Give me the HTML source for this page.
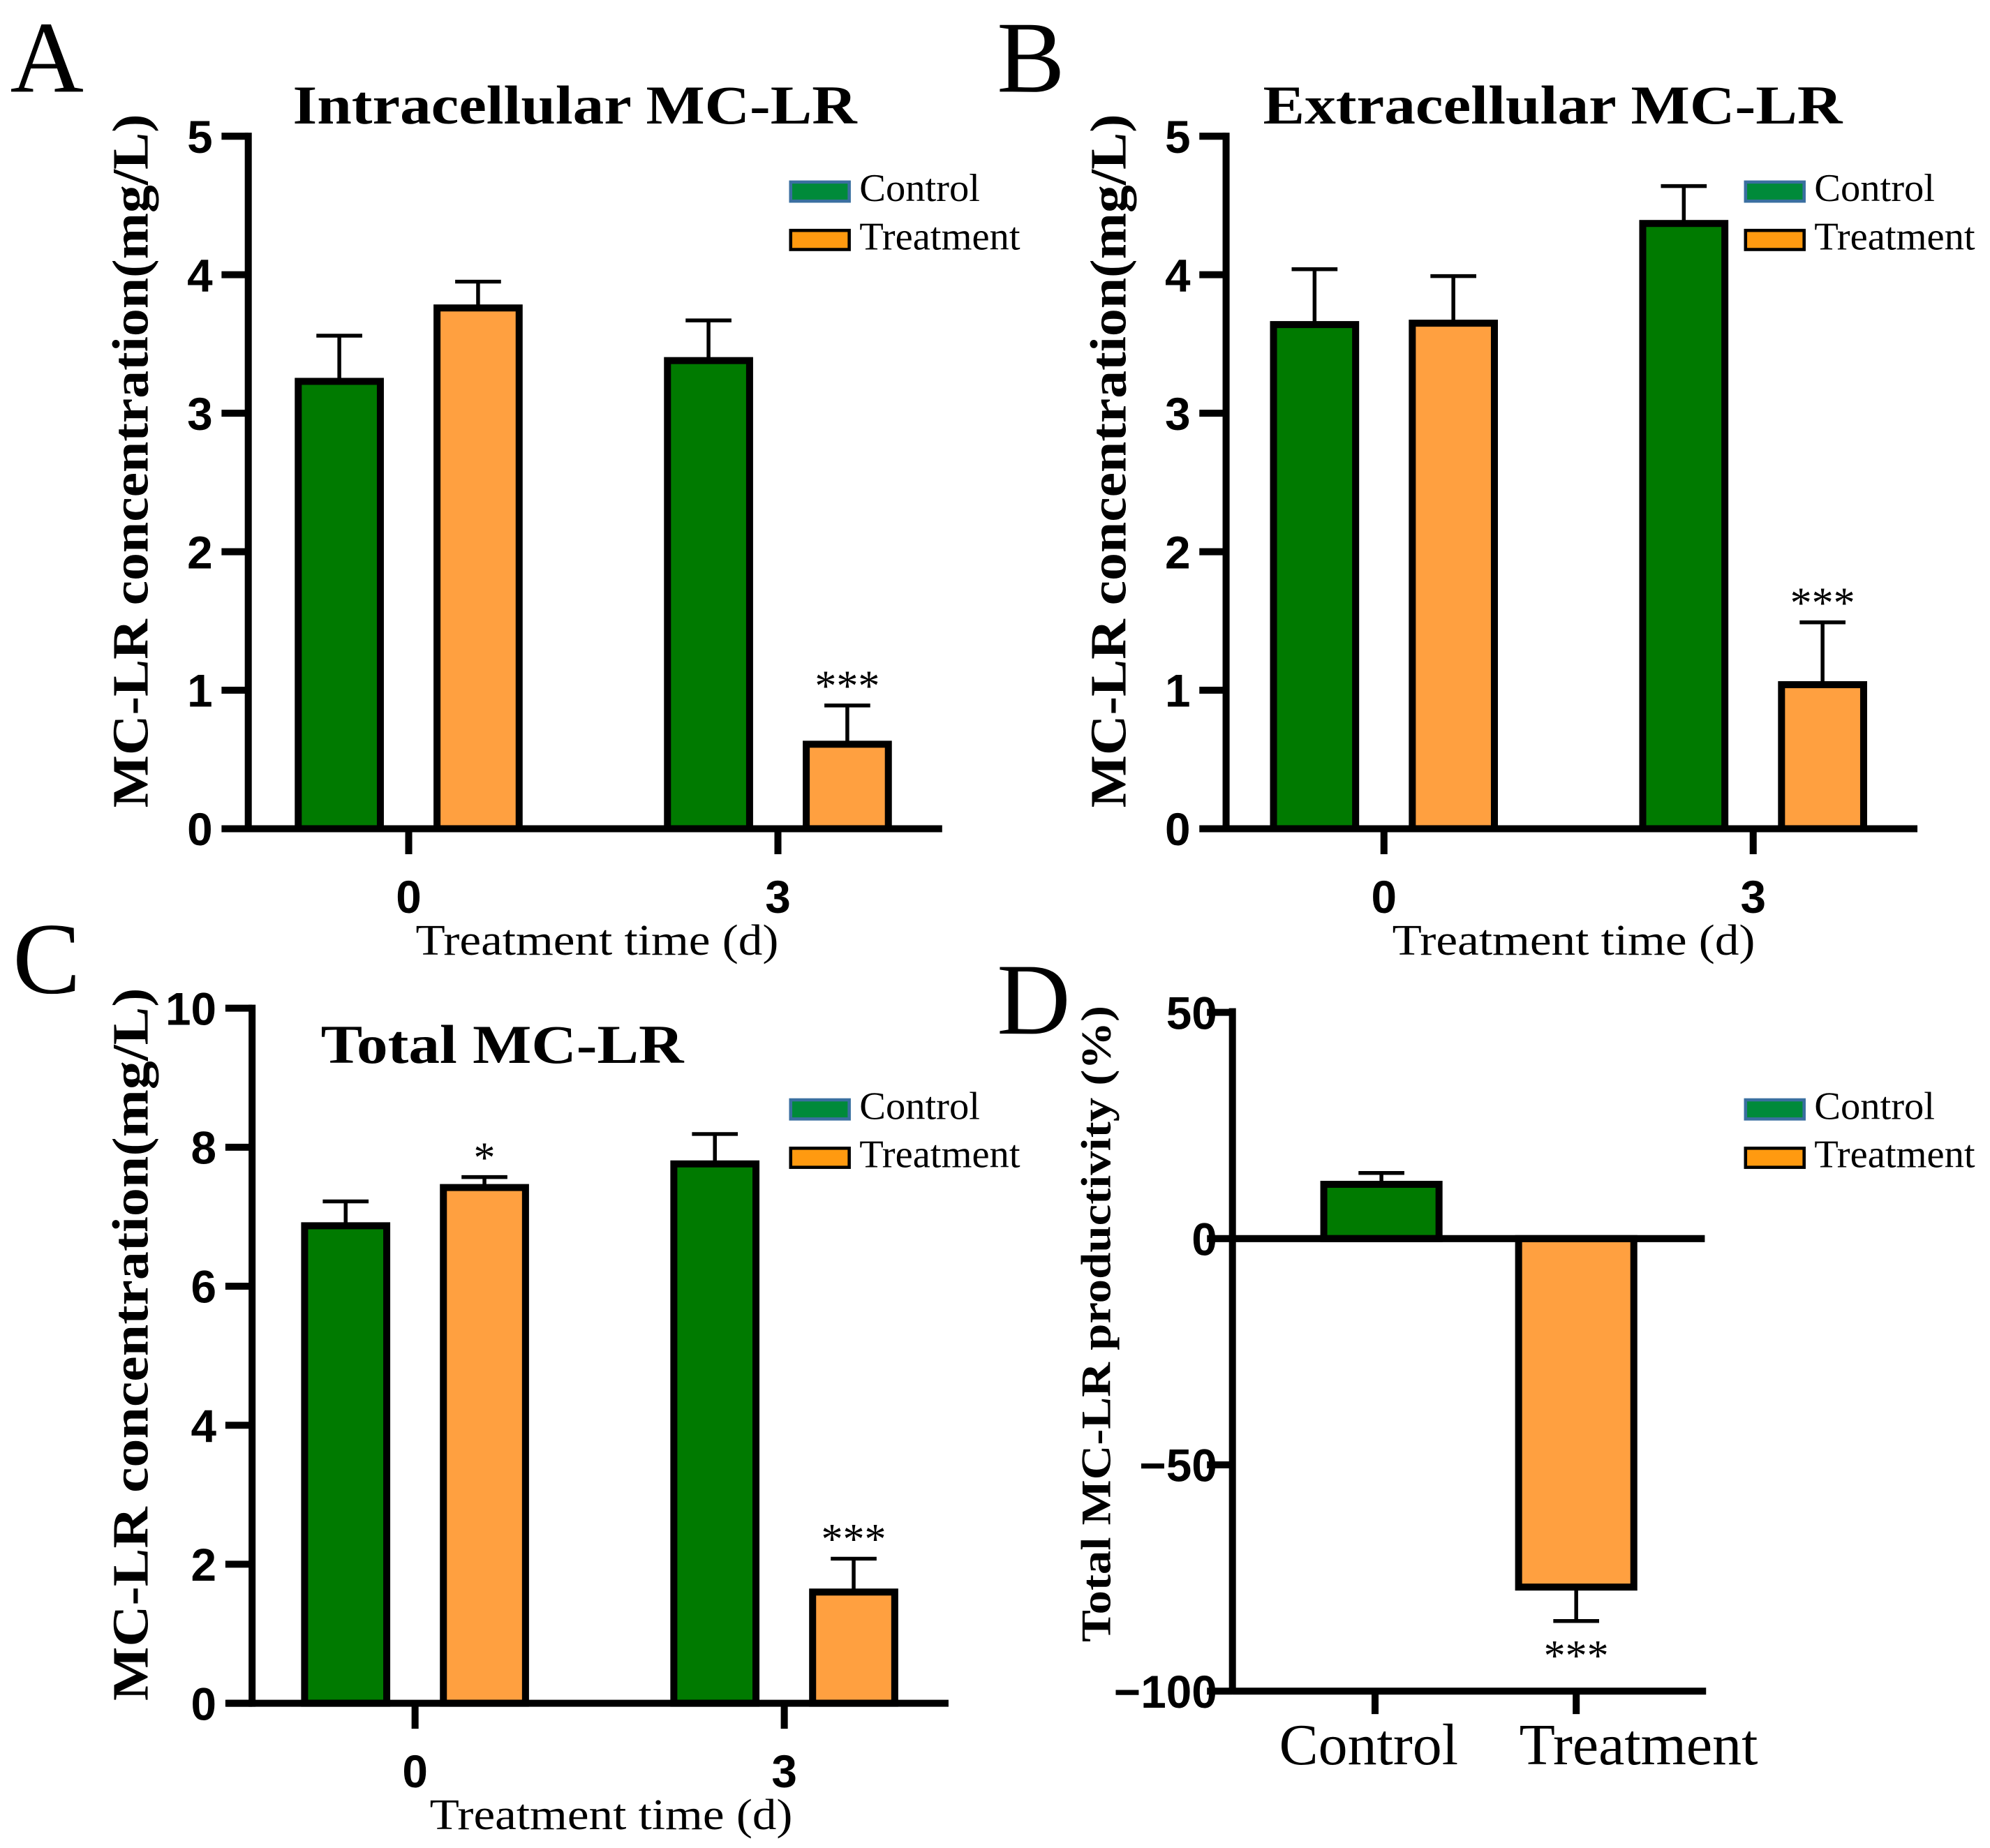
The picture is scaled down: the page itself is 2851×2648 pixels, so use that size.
<!DOCTYPE html>
<html><head><meta charset="utf-8"><style>
html,body{margin:0;padding:0;background:#fff}
svg{display:block}
.tick{font-family:"Liberation Sans",sans-serif;font-weight:bold;font-size:36px}
.ser{font-family:"Liberation Serif",serif}
</style></head><body>
<svg id="fig" width="2851" height="2648" viewBox="0 0 1563 1451.7" xmlns="http://www.w3.org/2000/svg"></svg>
<script>
// Panel A data
const aCats = ["0","3"];
const aControl = [3.23, 3.38];
const aControlErr = [3.56, 3.67];
const aTreat = [3.76, 0.61];
const aTreatErr = [3.95, 0.89];
const aSig = ["", "***"];
const aTicks = [0,1,2,3,4,5];
// Panel B data
const bCats = ["0","3"];
const bControl = [3.64, 4.37];
const bControlErr = [4.04, 4.64];
const bTreat = [3.65, 1.04];
const bTreatErr = [3.99, 1.49];
const bSig = ["", "***"];
const bTicks = [0,1,2,3,4,5];
// Panel C data
const cCats = ["0","3"];
const cControl = [6.87, 7.76];
const cControlErr = [7.22, 8.19];
const cTreat = [7.42, 1.60];
const cTreatErr = [7.57, 2.08];
const cSig = ["*", "***"];
const cTicks = [0,2,4,6,8,10];
// Panel D data
const dCats = ["Control","Treatment"];
const dValues = [12, -77];
const dErr = [14.5, -84.5];
const dTicks = [50,0,-50,-100];
const dTickLabels = ["50","0","\u221250","\u2212100"];

const NS="http://www.w3.org/2000/svg";
const svg=document.getElementById('fig');
const GREEN="#007a00", ORANGE="#ffa040";
function mk(tag,attrs,parent,text){const e=document.createElementNS(NS,tag);for(const k in attrs)e.setAttribute(k,attrs[k]);if(text!==undefined)e.textContent=text;(parent||svg).appendChild(e);return e;}

function legend(g,x,y){
  let s=mk('rect',{x:x,y:y,width:46,height:15,fill:'#008a3a',stroke:'#3a6fa0','stroke-width':2.5},g);
  
  
  let t=mk('text',{x:x+54,y:y+15,'font-size':31,class:'ser'},g,'Control');
  
  
  s=mk('rect',{x:x,y:y+38,width:46,height:15,fill:'#ff9a10',stroke:'#000','stroke-width':2.5},g);
  
  
  t=mk('text',{x:x+54,y:y+53,'font-size':31,class:'ser'},g,'Treatment');
  
  
}

function bar(g,cx,w,v0,v,errV,yf,color,name){
  const y0=yf(0), y1=yf(v);
  const top=Math.min(y0,y1), h=Math.abs(y1-y0);
  const ye=yf(errV);
  let l=mk('line',{x1:cx,x2:cx,y1:y1,y2:ye,stroke:'#000','stroke-width':3},g);
  
  
  let c=mk('line',{x1:cx-18,x2:cx+18,y1:ye,y2:ye,stroke:'#000','stroke-width':3},g);
  
  
  let r=mk('rect',{x:cx-w/2+2.75,y:top,width:w-5.5,height:h,fill:color,stroke:'#000','stroke-width':5.5},g);
  
  
  return ye;
}

function grouped(p){
  const g=mk('g',{});
  
  
  const yf=v=>p.y0-(v-0)*(p.y0-p.yTop)/p.max;
  const xc=[p.t0,p.t1];
  p.cats.forEach((c,i)=>{
    bar(g,xc[i]-54.5,70,0,p.ctrl[i],p.ctrlErr[i],yf,GREEN,'bar-control-day'+c);
    const ye=bar(g,xc[i]+54.5,70,0,p.trt[i],p.trtErr[i],yf,ORANGE,'bar-treatment-day'+c);
    if(p.sig[i]){
      const s=mk('text',{x:xc[i]+54.5,y:ye-4,'text-anchor':'middle','font-size':34,class:'ser'},g,p.sig[i]);
      
      
    }
  });
  let ya=mk('line',{x1:p.ax,x2:p.ax,y1:p.yTop-2.75,y2:p.y0+2.75,stroke:'#000','stroke-width':5.5},g);
  
  
  let xa=mk('line',{x1:p.ax-20,x2:p.xEnd,y1:p.y0,y2:p.y0,stroke:'#000','stroke-width':5.5},g);
  
  
  p.ticks.forEach(t=>{
    const y=yf(t);
    let tk=mk('line',{x1:p.ax-21,x2:p.ax,y1:y,y2:y,stroke:'#000','stroke-width':5.5},g);
    
    
    let lb=mk('text',{x:p.ax-28,y:y+13,'text-anchor':'end',class:'tick'},g,String(t));
    
    
  });
  p.cats.forEach((c,i)=>{
    let tk=mk('line',{x1:xc[i],x2:xc[i],y1:p.y0,y2:p.y0+20,stroke:'#000','stroke-width':5.5},g);
    
    
    let lb=mk('text',{x:xc[i],y:p.y0+66,'text-anchor':'middle',class:'tick'},g,c);
    
    
  });
  let xt=mk('text',{x:p.xtc,y:p.y0+99,'text-anchor':'middle','font-size':34,class:'ser',textLength:285,lengthAdjust:'spacingAndGlyphs'},g,'Treatment time (d)');
  
  
  let yt=mk('text',{x:0,y:0,'text-anchor':'middle','font-size':40,'font-weight':'bold',class:'ser',textLength:p.ylen,lengthAdjust:'spacingAndGlyphs',transform:`translate(${p.ylx},${p.ylc}) rotate(-90)`},g,'MC-LR concentration(mg/L)');
  
  
  let ti=mk('text',{x:p.tx,y:p.ty,'font-size':43,'font-weight':'bold',class:'ser',textLength:p.tlen,lengthAdjust:'spacingAndGlyphs'},g,p.title);
  
  
  let le=mk('text',{x:p.lx,y:p.ly,'font-size':80,class:'ser'},g,p.letter);
  
  
  legend(g,p.legx,p.legy);
}

grouped({name:'panel-a',cats:aCats,ctrl:aControl,ctrlErr:aControlErr,trt:aTreat,trtErr:aTreatErr,sig:aSig,ticks:aTicks,max:5,
  ax:195,y0:651,yTop:107,xEnd:740,t0:321,t1:611,xtc:469,ylx:116,ylc:362,ylen:545,title:'Intracellular MC-LR',tx:230,ty:97,tlen:443,letter:'A',lx:8,ly:72,legx:621,legy:143});
grouped({name:'panel-b',cats:bCats,ctrl:bControl,ctrlErr:bControlErr,trt:bTreat,trtErr:bTreatErr,sig:bSig,ticks:bTicks,max:5,
  ax:963,y0:651,yTop:107,xEnd:1506,t0:1087,t1:1377,xtc:1236,ylx:884,ylc:362,ylen:545,title:'Extracellular MC-LR',tx:992,ty:97,tlen:455,letter:'B',lx:783,ly:72,legx:1371,legy:143});
grouped({name:'panel-c',cats:cCats,ctrl:cControl,ctrlErr:cControlErr,trt:cTreat,trtErr:cTreatErr,sig:cSig,ticks:cTicks,max:10,
  ax:198,y0:1338,yTop:792,xEnd:745,t0:326,t1:616,xtc:480,ylx:116,ylc:1056,ylen:560,title:'Total MC-LR',tx:252,ty:835,tlen:285,letter:'C',lx:10,ly:780,legx:621,legy:864});

// Panel D
(function(){
  const g=mk('g',{});
  
  
  const yf=v=>973-v*3.555;
  const xc=[1085,1238];
  dCats.forEach((c,i)=>{
    bar(g,xc[i],96,0,dValues[i],dErr[i],yf,i===0?GREEN:ORANGE,'bar-'+c.toLowerCase());
  });
  let s=mk('text',{x:1238,y:1312,'text-anchor':'middle','font-size':34,class:'ser'},g,'***');
  
  
  let ya=mk('line',{x1:968,x2:968,y1:792,y2:1331,stroke:'#000','stroke-width':5.5},g);
  
  
  let zl=mk('line',{x1:968,x2:1339,y1:yf(0),y2:yf(0),stroke:'#000','stroke-width':5.5},g);
  
  
  let xa=mk('line',{x1:968,x2:1340,y1:yf(-100),y2:yf(-100),stroke:'#000','stroke-width':5.5},g);
  
  
  dTicks.forEach((t,i)=>{
    const y=yf(t);
    let tk=mk('line',{x1:948,x2:968,y1:y,y2:y,stroke:'#000','stroke-width':5.5},g);
    
    
    let lb=mk('text',{x:956,y:y+13,'text-anchor':'end',class:'tick'},g,dTickLabels[i]);
    
    
  });
  dCats.forEach((c,i)=>{
    const x=[1080,1238][i];
    let tk=mk('line',{x1:x,x2:x,y1:yf(-100),y2:yf(-100)+18,stroke:'#000','stroke-width':5.5},g);
    
    
    let lb=mk('text',{x:[1075,1287][i],y:1386,'text-anchor':'middle','font-size':46,class:'ser'},g,c);
    
    
  });
  let yt=mk('text',{x:0,y:0,'text-anchor':'middle','font-size':33,'font-weight':'bold',class:'ser',textLength:500,lengthAdjust:'spacingAndGlyphs',transform:'translate(872,1040) rotate(-90)'},g,'Total MC-LR productivity (%)');
  
  
  let le=mk('text',{x:783,y:812,'font-size':80,class:'ser'},g,'D');
  
  
  legend(g,1371,864);
})();
</script>
</body></html>
